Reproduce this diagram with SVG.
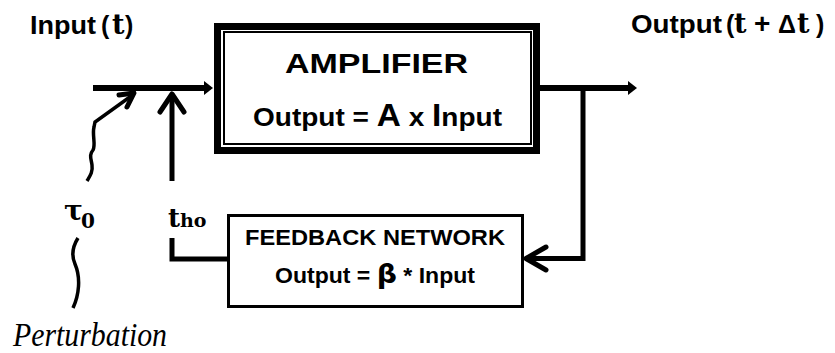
<svg xmlns="http://www.w3.org/2000/svg" width="835" height="353" viewBox="0 0 835 353">
<style>
.lbl{font-family:"Liberation Sans",Arial,sans-serif;font-weight:bold;fill:#000}
.ser{font-family:"DejaVu Serif","Liberation Serif",serif;font-weight:bold;fill:#000}
.ln{fill:none;stroke:#000;stroke-linecap:butt;stroke-linejoin:miter}
.thick{stroke-width:5}
.chev{fill:none;stroke:#000;stroke-width:5;stroke-linecap:round;stroke-linejoin:round}
</style>
<rect width="835" height="353" fill="#fff"/>
<g id="input-label">
<text class="lbl" x="30" y="34" font-size="25" textLength="66" lengthAdjust="spacingAndGlyphs">Input</text>
<text class="lbl" x="101" y="34" font-size="25">(</text>
<text class="ser" x="112" y="34" font-size="27">t</text>
<text class="lbl" x="125" y="34" font-size="25">)</text>
</g>
<g id="output-label">
<text class="lbl" x="631" y="33" font-size="25" textLength="91" lengthAdjust="spacingAndGlyphs">Output</text>
<text class="lbl" x="726" y="33" font-size="25">(</text>
<text class="ser" x="734" y="33" font-size="27">t</text>
<text class="lbl" x="754" y="33" font-size="28">+</text>
<text class="lbl" x="778" y="33" font-size="25">Δ</text>
<text class="ser" x="797" y="33" font-size="27">t</text>
<text class="lbl" x="816" y="33" font-size="25">)</text>
</g>
<g id="amplifier">
<rect x="217.5" y="26.5" width="319" height="124" fill="#fff" stroke="#000" stroke-width="7"/>
<rect x="224" y="32" width="307" height="112" fill="none" stroke="#000" stroke-width="2"/>
<text class="lbl" x="285" y="73" font-size="27" textLength="183" lengthAdjust="spacingAndGlyphs">AMPLIFIER</text>
<text class="lbl" x="253" y="126" font-size="26" textLength="249" lengthAdjust="spacingAndGlyphs">Output = <tspan font-size="31">A</tspan> x <tspan font-size="31">I</tspan>nput</text>
</g>
<g id="feedback">
<rect x="228.5" y="215.5" width="294" height="91" fill="#fff" stroke="#000" stroke-width="3"/>
<text class="lbl" x="245" y="245" font-size="22" textLength="260" lengthAdjust="spacingAndGlyphs">FEEDBACK NETWORK</text>
<text class="lbl" x="275" y="283" font-size="22" textLength="200" lengthAdjust="spacingAndGlyphs">Output = <tspan font-family="DejaVu Sans,sans-serif" font-size="27">β</tspan> * Input</text>
</g>
<g id="tau0">
<text class="ser" x="64" y="220" font-size="28">τ</text>
<text class="ser" x="81" y="228" font-size="20" font-weight="normal">0</text>
</g>
<g id="tho">
<text class="ser" x="168" y="227" font-size="26">t</text>
<text class="ser" x="180" y="227" font-size="19">ho</text>
</g>
<g id="perturbation">
<text x="13" y="346" font-family="'Liberation Serif',serif" font-style="italic" font-size="33" textLength="154" lengthAdjust="spacingAndGlyphs">Perturbation</text>
</g>
<g id="connectors">
<line class="ln" x1="93" y1="88" x2="206" y2="88" stroke-width="6"/>
<polygon points="213,88 204,81 204,95" fill="#000"/>
<line class="ln" x1="540" y1="88" x2="630" y2="88" stroke-width="6"/>
<polygon points="637,88 628,81 628,95" fill="#000"/>
<polyline class="ln thick" points="583,88 583,258.5 527,258.5"/>
<polyline class="chev" points="546,247 526,258.5 546,270"/>
<line class="ln thick" x1="172" y1="181" x2="172" y2="94"/>
<polyline class="chev" points="160,112 172,94 184,112"/>
<polyline class="ln thick" points="172,238 172,259 228,259"/>
<path class="ln" stroke-width="3.5" d="M 87 181 C 90 176, 93 172, 92 165 C 91 158, 89 155, 93 150 C 96 145, 92 135, 94 127 L 95 122 L 134 94"/>
<polyline class="chev" stroke-width="4" points="119,95 134,93 127,107"/>
<path class="ln" stroke-width="3.5" d="M 78 238 C 73 246, 71 255, 75 264 C 81 278, 79 295, 73 308"/>
</g>
</svg>
